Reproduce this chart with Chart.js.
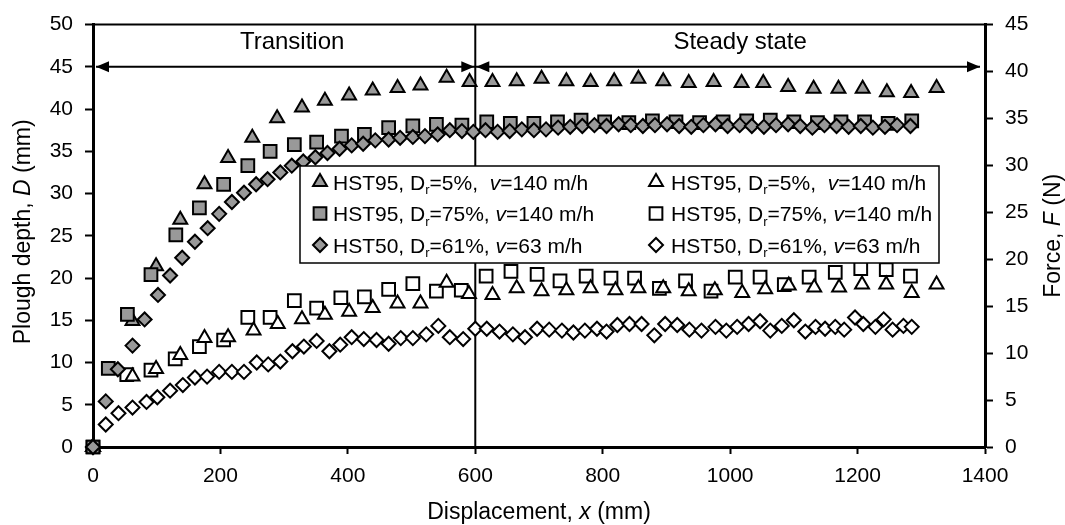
<!DOCTYPE html>
<html>
<head>
<meta charset="utf-8">
<script src="https://cdn.jsdelivr.net/npm/chart.js@4.4.1/dist/chart.umd.min.js"></script>
<style>
html, body { margin: 0; padding: 0; background: #fff; }
</style>
</head>
<body>
<canvas id="myChart" width="1065" height="525"></canvas>
<script>
const FONT = '"Liberation Sans", Arial, sans-serif'

// plough depth D (mm), filled markers, left axis
const hst95loX = [0, 62, 99, 137, 175, 212, 250, 289, 328, 364, 402, 439, 478, 514, 555, 591, 627, 665, 704, 743, 781, 818, 856, 895, 935, 974, 1018, 1052, 1091, 1131, 1170, 1208, 1246, 1284, 1324]
const hst95loD = [0, 14.9, 21.4, 26.9, 31.1, 34.2, 36.6, 38.9, 40.2, 41.0, 41.6, 42.2, 42.5, 42.8, 43.7, 43.2, 43.2, 43.3, 43.6, 43.3, 43.2, 43.3, 43.6, 43.3, 43.1, 43.2, 43.1, 43.1, 42.6, 42.4, 42.4, 42.4, 42.0, 41.9, 42.5]

const hst95hiX = [0, 24, 54, 91, 130, 167, 205, 243, 278, 316, 351, 390, 426, 464, 502, 539, 579, 618, 655, 692, 729, 766, 803, 841, 878, 915, 952, 989, 1026, 1063, 1100, 1137, 1174, 1211, 1248, 1285]
const hst95hiD = [0, 9.3, 15.7, 20.4, 25.1, 28.3, 31.1, 33.3, 35.0, 35.8, 36.1, 36.8, 37.0, 37.8, 38.0, 38.2, 38.1, 38.5, 38.3, 38.3, 38.5, 38.7, 38.5, 38.4, 38.6, 38.5, 38.4, 38.5, 38.6, 38.7, 38.5, 38.4, 38.5, 38.5, 38.3, 38.6]

const hst50X = [0, 20, 39, 62, 81, 102, 121, 140, 160, 180, 198, 218, 237, 256, 274, 294, 312, 330, 349, 368, 387, 406, 424, 443, 464, 482, 502, 521, 541, 560, 579, 597,
  616, 635, 654, 673, 692, 711, 730, 749, 768, 787, 806, 825, 844, 863, 882, 901, 920, 939, 958, 977, 996, 1015, 1034, 1053, 1072, 1091, 1110, 1129, 1148, 1167, 1186, 1205, 1224, 1243, 1262, 1283]
const hst50D = [0, 5.4, 9.2, 12.0, 15.1, 18.0, 20.3, 22.4, 24.3, 25.9, 27.6, 29.0, 30.1, 31.1, 31.7, 32.5, 33.3, 33.8, 34.3, 34.8, 35.3, 35.7, 35.9, 36.3, 36.4, 36.6, 36.7, 36.8, 37.0, 37.5, 37.4, 37.3,
  37.5, 37.3, 37.4, 37.6, 37.5, 37.6, 37.8, 37.9, 38.0, 38.1, 38.0, 38.2, 38.1, 38.0, 38.1, 38.2, 38.0, 37.9, 38.1, 38.2, 38.0, 38.1, 38.0, 37.9, 38.1, 38.2, 38.0, 37.8, 38.1, 38.0, 37.9, 38.0, 37.8, 37.9, 38.1, 38.0]

// force F (N), open markers, right axis
const f95loX = [0, 62, 99, 137, 175, 212, 252, 290, 328, 364, 402, 439, 478, 514, 555, 590, 627, 665, 704, 743, 781, 820, 856, 895, 935, 976, 1019, 1055, 1092, 1132, 1171, 1207, 1245, 1285, 1324]
const f95loF = [0, 7.5, 8.3, 9.8, 11.6, 11.7, 12.4, 13.1, 13.6, 14.1, 14.4, 14.8, 15.3, 15.3, 17.5, 16.3, 16.2, 16.9, 16.6, 16.7, 16.9, 16.7, 16.9, 16.9, 16.6, 16.7, 16.4, 16.8, 17.2, 17.0, 17.0, 17.3, 17.3, 16.4, 17.3]

const f95hiX = [0, 53, 91, 129, 167, 205, 243, 278, 316, 351, 389, 426, 464, 502, 539, 578, 617, 656, 697, 733, 774, 813, 850, 889, 930, 970, 1008, 1047, 1085, 1124, 1165, 1205, 1245, 1283]
const f95hiF = [0, 7.7, 8.2, 9.4, 10.7, 11.4, 13.8, 13.8, 15.6, 14.8, 15.9, 16.0, 16.8, 17.4, 16.6, 16.7, 18.2, 18.7, 18.4, 17.7, 18.2, 18.0, 18.0, 16.9, 17.7, 16.6, 18.1, 18.1, 17.3, 18.1, 18.6, 19.0, 18.9, 18.2]

const f50X = [0, 20, 40, 62, 84, 101, 121, 141, 160, 179, 198, 218, 237, 257, 275, 294, 313, 331, 351, 371, 388, 406, 425, 445, 464, 483, 502, 523, 542, 560,
  581, 600, 618, 638, 659, 678, 697, 716, 736, 754, 772, 791, 806, 823, 842, 861, 881, 898, 917, 936, 955, 977, 994, 1011, 1029, 1047, 1063, 1081, 1100, 1118,
  1134, 1149, 1165, 1179, 1196, 1209, 1228, 1241, 1255, 1272, 1285]
const f50F = [0, 2.4, 3.6, 4.2, 4.8, 5.3, 6.0, 6.6, 7.4, 7.5, 8.0, 8.0, 8.0, 9.0, 8.8, 9.1, 10.2, 10.7, 11.3, 10.2, 10.9, 11.7, 11.5, 11.4, 11.0, 11.6, 11.6, 12.0, 12.9, 11.7,
  11.5, 12.6, 12.6, 12.3, 12.0, 11.7, 12.6, 12.5, 12.4, 12.2, 12.4, 12.6, 12.3, 13.0, 13.1, 13.1, 11.9, 13.1, 13.0, 12.5, 12.4, 12.8, 12.4, 12.8, 13.1, 13.4, 12.4, 12.9, 13.5, 12.3,
  12.8, 12.6, 12.8, 12.5, 13.8, 13.1, 12.8, 13.6, 12.5, 12.9, 12.8]

const xTicks = [0, 200, 400, 600, 800, 1000, 1200, 1400]
const dTicks = [0, 5, 10, 15, 20, 25, 30, 35, 40, 45, 50]
const fTicks = [0, 5, 10, 15, 20, 25, 30, 35, 40, 45]

const boundaryX = 600
const arrowD = 45
const phaseNames = ['Transition', 'Steady state']

// legend text pieces: sub = subscript, it = italic
const legendTexts = [
  [{ t: 'HST95, D' }, { t: 'r', sub: 1 }, { t: '=5%,  ' }, { t: 'v', it: 1 }, { t: '=140 m/h' }],
  [{ t: 'HST95, D' }, { t: 'r', sub: 1 }, { t: '=75%, ' }, { t: 'v', it: 1 }, { t: '=140 m/h' }],
  [{ t: 'HST50, D' }, { t: 'r', sub: 1 }, { t: '=61%, ' }, { t: 'v', it: 1 }, { t: '=63 m/h' }]
]

const grey = '#999999'
const shapes = [['triangle', 8], ['rect', 9], ['rectRot', 7]]

const series = function (label, xs, ys, axis, shape, filled, order) {
    return {
        label: label,
        data: xs.map((x, i) => ({ x: x, y: ys[i] })),
        yAxisID: axis,
        pointStyle: shape[0],
        pointRadius: shape[1],
        pointHoverRadius: shape[1],
        backgroundColor: filled ? grey : '#fff',
        borderColor: '#000',
        borderWidth: 2,
        showLine: false,
        clip: false,
        order: order
    }
}

//marker like chart.js draws it
function marker(ctx, style, r, x, y, fill) {
    ctx.beginPath()
    if (style === 'triangle') {
        ctx.moveTo(x, y - r)
        ctx.lineTo(x + Math.sin(2 * Math.PI / 3) * r, y + r / 2)
        ctx.lineTo(x - Math.sin(2 * Math.PI / 3) * r, y + r / 2)
    } else if (style === 'rect') {
        const s = Math.SQRT1_2 * r
        ctx.rect(x - s, y - s, 2 * s, 2 * s)
    } else {
        ctx.moveTo(x - r, y)
        ctx.lineTo(x, y - r)
        ctx.lineTo(x + r, y)
        ctx.lineTo(x, y + r)
    }
    ctx.closePath()
    ctx.fillStyle = fill
    ctx.fill()
    ctx.lineWidth = 2
    ctx.strokeStyle = '#000'
    ctx.stroke()
}

function setFont(ctx, p, size) {
    const s = p.sub ? Math.round(size * 0.62) : size
    ctx.font = (p.it ? 'italic ' : '') + s + 'px ' + FONT
}

// text with italic / subscript pieces, y = baseline
function drawRich(ctx, parts, x, y, size, align) {
    let w = 0
    parts.forEach(p => { setFont(ctx, p, size); w += ctx.measureText(p.t).width })
    let cx = align === 'center' ? x - w / 2 : x
    ctx.textAlign = 'left'
    ctx.textBaseline = 'alphabetic'
    ctx.fillStyle = '#000'
    parts.forEach(p => {
        setFont(ctx, p, size)
        ctx.fillText(p.t, cx, y + (p.sub ? size * 0.22 : 0))
        cx += ctx.measureText(p.t).width
    })
}

function arrowHead(ctx, tipX, y, dir) {
    ctx.beginPath()
    ctx.moveTo(tipX, y)
    ctx.lineTo(tipX + dir * 13, y - 5.5)
    ctx.lineTo(tipX + dir * 13, y + 5.5)
    ctx.closePath()
    ctx.fill()
}

const decorations = {
    id: 'decorations',
    beforeDatasetsDraw(chart) {
        const { ctx, chartArea: a, scales } = chart
        const xb = scales.x.getPixelForValue(boundaryX)
        const ya = scales.y.getPixelForValue(arrowD)
        const x0 = scales.x.getPixelForValue(0)
        const x1 = scales.x.getPixelForValue(1400)
        ctx.save()
        ctx.strokeStyle = '#000'
        ctx.fillStyle = '#000'
        ctx.lineWidth = 2
        ctx.beginPath()
        ctx.moveTo(a.left, a.top)
        ctx.lineTo(a.right, a.top)
        ctx.stroke()
        ctx.beginPath()
        ctx.moveTo(xb, a.top)
        ctx.lineTo(xb, a.bottom)
        ctx.stroke()
        ctx.beginPath()
        ctx.moveTo(x0 + 3, ya)
        ctx.lineTo(x1 - 5, ya)
        ctx.stroke()
        arrowHead(ctx, x0 + 3, ya, 1)
        arrowHead(ctx, xb - 1, ya, -1)
        arrowHead(ctx, xb + 1, ya, 1)
        arrowHead(ctx, x1 - 5, ya, -1)
        ctx.restore()
    },
    afterDraw(chart) {
        const { ctx, chartArea: a, scales } = chart
        ctx.save()
        // phase names
        const xb = scales.x.getPixelForValue(boundaryX)
        drawRich(ctx, [{ t: phaseNames[0] }], (a.left + xb) / 2 + 8, 49, 24, 'center')
        drawRich(ctx, [{ t: phaseNames[1] }], (xb + a.right) / 2 + 10, 49, 24, 'center')

        // axis titles
        drawRich(ctx, [{ t: 'Displacement, ' }, { t: 'x', it: 1 }, { t: ' (mm)' }], (a.left + a.right) / 2, 519, 23, 'center')
        ctx.save()
        ctx.translate(30, (a.top + a.bottom) / 2 - 4)
        ctx.rotate(-Math.PI / 2)
        drawRich(ctx, [{ t: 'Plough depth, ' }, { t: 'D', it: 1 }, { t: ' (mm)' }], 0, 0, 23, 'center')
        ctx.restore()
        ctx.save()
        ctx.translate(1060, (a.top + a.bottom) / 2)
        ctx.rotate(-Math.PI / 2)
        drawRich(ctx, [{ t: 'Force, ' }, { t: 'F', it: 1 }, { t: ' (N)' }], 0, 0, 23, 'center')
        ctx.restore()

        // legend box
        ctx.fillStyle = '#fff'
        ctx.fillRect(300, 166, 639, 97)
        ctx.strokeStyle = '#000'
        ctx.lineWidth = 1.5
        ctx.strokeRect(300, 166, 639, 97)
        const rows = [182, 213.5, 245]
        rows.forEach((ry, i) => {
            marker(ctx, shapes[i][0], shapes[i][1], 320, ry, grey)
            drawRich(ctx, legendTexts[i], 333, ry + 7.5, 21, 'left')
            marker(ctx, shapes[i][0], shapes[i][1], 656, ry, '#fff')
            drawRich(ctx, legendTexts[i], 671, ry + 7.5, 21, 'left')
        })
        ctx.restore()
    }
}

const tickFont = { size: 21, family: FONT }
const grid = { drawOnChartArea: false, tickLength: 8, tickColor: '#000', tickWidth: 2 }
const border = { display: true, color: '#000', width: 3 }
const plain = v => String(v)

const config = {
    type: 'scatter',
    data: {
        datasets: [
            series('HST95 5% D', hst95loX, hst95loD, 'y', shapes[0], true, 3),
            series('HST95 75% D', hst95hiX, hst95hiD, 'y', shapes[1], true, 2),
            series('HST50 61% D', hst50X, hst50D, 'y', shapes[2], true, 1),
            series('HST95 5% F', f95loX, f95loF, 'y2', shapes[0], false, 4),
            series('HST95 75% F', f95hiX, f95hiF, 'y2', shapes[1], false, 5),
            series('HST50 61% F', f50X, f50F, 'y2', shapes[2], false, 6)
        ]
    },
    options: {
        responsive: false,
        animation: false,
        devicePixelRatio: 1,
        layout: { padding: { top: 20, left: 0, right: 0, bottom: 0 } },
        plugins: { legend: { display: false }, tooltip: { enabled: false } },
        scales: {
            x: {
                type: 'linear', min: xTicks[0], max: xTicks[xTicks.length - 1],
                afterBuildTicks: s => { s.ticks = xTicks.map(v => ({ value: v })) },
                ticks: { color: '#000', font: tickFont, padding: 10, maxRotation: 0, callback: plain },
                grid: Object.assign({}, grid, { tickLength: 7 }),
                border: border,
                afterFit: s => { s.height = 78 }
            },
            y: {
                position: 'left', min: dTicks[0], max: dTicks[dTicks.length - 1],
                afterBuildTicks: s => { s.ticks = dTicks.map(v => ({ value: v })) },
                ticks: { color: '#000', font: tickFont, padding: 12, callback: plain },
                grid: grid,
                border: border,
                afterFit: s => { s.width = 93 }
            },
            y2: {
                position: 'right', min: fTicks[0], max: fTicks[fTicks.length - 1],
                afterBuildTicks: s => { s.ticks = fTicks.map(v => ({ value: v })) },
                ticks: { color: '#000', font: tickFont, padding: 12, callback: plain },
                grid: grid,
                border: border,
                afterFit: s => { s.width = 80 }
            }
        }
    },
    plugins: [decorations]
}

const myChart = new Chart(document.getElementById('myChart'), config)
</script>
</body>
</html>
